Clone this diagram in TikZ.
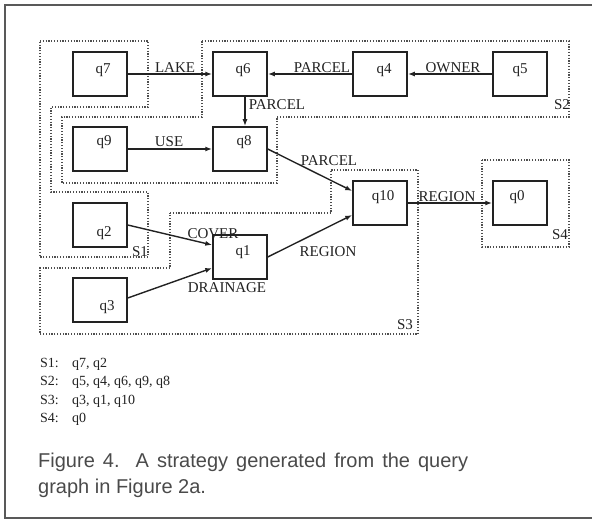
\documentclass[tikz,border=0pt]{standalone}
\usepackage{fontspec}
\setmainfont{Liberation Serif}
\newfontfamily\capfont{Liberation Sans}
\usetikzlibrary{arrows.meta,calc}
\definecolor{ink}{HTML}{222222}
\definecolor{capgray}{HTML}{4A4A4A}
\begin{document}
\begin{tikzpicture}[x=1bp,y=-1bp,
  qbox/.style={draw=ink,line width=1.5bp,minimum width=54bp,minimum height=44bp,inner sep=0pt},
  qtxt/.style={font=\fontsize{15bp}{17bp}\selectfont,text=ink,inner sep=0pt},
  elab/.style={font=\fontsize{15bp}{17bp}\selectfont,text=ink,inner sep=0pt,anchor=base},
  edge/.style={draw=ink,line width=1.4bp,-{Latex[length=7bp,width=5bp]}},
  region/.style={draw=ink!80,line width=1.4bp,dash pattern=on 1.2bp off 1.6bp},
  listtxt/.style={font=\fontsize{14bp}{16bp}\selectfont,text=ink,inner sep=0pt,anchor=base west},
  captxt/.style={font=\capfont\fontsize{20bp}{24bp}\selectfont,text=capgray,inner sep=0pt,anchor=base west},
  frame/.style={draw=black!65,line width=1.5bp}]
\useasboundingbox (0,0) rectangle (592,522);
% outer frame
\coordinate (f1) at (594,5);
\coordinate (f2) at (5,5);
\coordinate (f3) at (5,518);
\coordinate (f4) at (594,518);
\draw[frame] (f1) -- (f2) -- (f3) -- (f4);
% regions
\draw[region] (40,41) -- (148,41) -- (148,107) -- (51,107) -- (51,192) -- (148,192) -- (148,257) -- (40,257) -- cycle;
\draw[region] (202,41) -- (569,41) -- (569,117) -- (277,117) -- (277,183) -- (62,183) -- (62,117) -- (202,117) -- cycle;
\draw[region] (170,213) -- (331,213) -- (331,170) -- (418,170) -- (418,334) -- (40,334) -- (40,268) -- (170,268) -- cycle;
\draw[region] (482,160) rectangle (569,247);
% boxes
\node[qbox] (q7) at (100,74) {};
\node[qbox] (q6) at (240,74) {};
\node[qbox] (q4) at (380,74) {};
\node[qbox] (q5) at (520,74) {};
\node[qbox] (q9) at (100,149) {};
\node[qbox] (q8) at (240,149) {};
\node[qbox] (q2) at (100,225) {};
\node[qbox] (q1) at (240,257) {};
\node[qbox] (q3) at (100,300) {};
\node[qbox] (q10) at (380,203) {};
\node[qbox] (q0) at (520,203) {};
% box texts
\node[qtxt] (t7) at (103,70) {q7};
\node[qtxt] (t6) at (243,70) {q6};
\node[qtxt] (t4) at (384,70) {q4};
\node[qtxt] (t5) at (520,70) {q5};
\node[qtxt] (t9) at (104,142) {q9};
\node[qtxt] (t8) at (244,142) {q8};
\node[qtxt] (t2) at (104,233) {q2};
\node[qtxt] (t1) at (243,252) {q1};
\node[qtxt] (t3) at (107,307) {q3};
\node[qtxt] (t10) at (383,197) {q10};
\node[qtxt] (t0) at (517,197) {q0};
% edges
\draw[edge] (q7.east) -- (q6.west);
\draw[edge] (q4.west) -- (q6.east);
\draw[edge] (q5.west) -- (q4.east);
\draw[edge] ($(q6.south)+(5,0)$) -- ($(q8.north)+(5,0)$);
\draw[edge] (q9.east) -- (q8.west);
\draw[edge] (q8.east) -- ($(q10.west)+(0,-12)$);
\draw[edge] (q1.east) -- ($(q10.west)+(0,12)$);
\draw[edge] (q10.east) -- (q0.west);
\draw[edge] (q2.east) -- ($(q1.west)+(0,-12)$);
\draw[edge] ($(q3.east)+(0,-2)$) -- ($(q1.west)+(0,11)$);
% edge labels
\node[elab] (lLake) at (175,73) {LAKE};
\node[elab] (lP1) at (322,73) {PARCEL};
\node[elab] (lOwner) at (453,73) {OWNER};
\node[elab] (lP2) at (277,110) {PARCEL};
\node[elab] (lUse) at (169,147) {USE};
\node[elab] (lP3) at (329,166) {PARCEL};
\node[elab] (lR1) at (328,256) {REGION};
\node[elab] (lR2) at (447,202) {REGION};
\node[elab] (lCover) at (213,238) {COVER};
\node[elab] (lDrain) at (227,292) {DRAINAGE};
% region labels
\node[elab] (s1) at (140,256) {S1};
\node[elab] (s2) at (562,110) {S2};
\node[elab] (s3) at (405,329) {S3};
\node[elab] (s4) at (560,239) {S4};
% list
\node[listtxt] (a1) at (40,367) {S1:};
\node[listtxt] (b1) at (72,367) {q7, q2};
\node[listtxt] (a2) at (40,385) {S2:};
\node[listtxt] (b2) at (72,385) {q5, q4, q6, q9, q8};
\node[listtxt] (a3) at (40,404) {S3:};
\node[listtxt] (b3) at (72,404) {q3, q1, q10};
\node[listtxt] (a4) at (40,422) {S4:};
\node[listtxt] (b4) at (72,422) {q0};
% caption
\node[captxt] (c1) at (38,467) {\makebox[430bp][s]{Figure 4.\ \ A strategy generated from the query}};
\node[captxt] (c2) at (38,493) {graph in Figure 2a.};
\end{tikzpicture}
\end{document}
